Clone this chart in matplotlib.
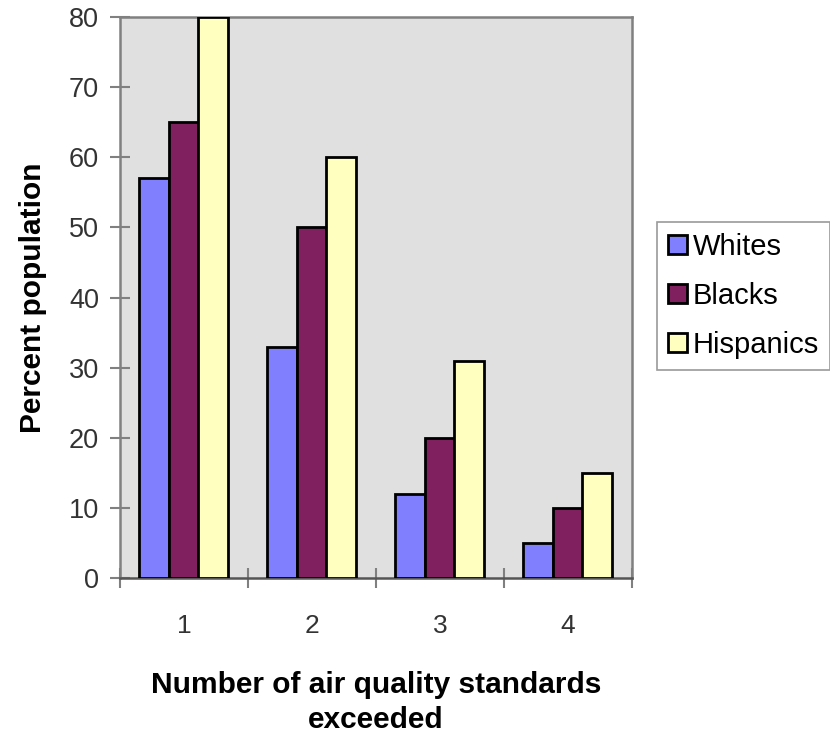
import matplotlib
matplotlib.use("Agg")
import matplotlib.pyplot as plt
import numpy as np

plt.rcParams['font.family'] = ['Liberation Sans', 'DejaVu Sans']

categories = ["1", "2", "3", "4"]
series_names = ["Whites", "Blacks", "Hispanics"]
whites = [57, 33, 12, 5]
blacks = [65, 50, 20, 10]
hispanics = [80, 60, 31, 15]
colors = ["#8080ff", "#80205f", "#ffffc0"]

fig = plt.figure(figsize=(8.3, 7.36), dpi=100, facecolor="white")
ax = fig.add_axes([120 / 830, 1 - 578 / 736, 512 / 830, 561 / 736])
ax.set_facecolor("#e0e0e0")

x = np.arange(1, len(categories) + 1)
w = 0.23
for i, (vals, name) in enumerate(zip([whites, blacks, hispanics], series_names)):
    ax.bar(x + (i - 1) * w - 0.005, vals, width=w, color=colors[i], edgecolor="black",
           linewidth=2, label=name, zorder=3)

ax.set_xlim(0.5, 4.5)
ax.set_ylim(0, 80)
ax.set_yticks(range(0, 81, 10))
ax.set_xticks(x)
ax.set_xticklabels(categories)
ax.set_xticks(np.arange(0.5, 4.6, 1), minor=True)
ax.tick_params(axis="x", which="major", length=0, pad=26, labelsize=19, labelcolor="#333333")
ax.tick_params(axis="x", which="minor", length=14, direction="inout", color="#808080", width=1.5)
ax.tick_params(axis="y", length=14, direction="inout", color="#808080", width=1.5,
               labelsize=19.5, labelcolor="#333333", pad=8)

for s in ax.spines.values():
    s.set_color("#808080")
    s.set_linewidth(1.8)
ax.spines["bottom"].set_color("#555555")

ax.set_ylabel("Percent population", fontsize=21.5, fontweight="bold", labelpad=16)
ax.set_xlabel("Number of air quality standards\nexceeded", fontsize=21.5, fontweight="bold",
              labelpad=24, linespacing=1.3)

leg = ax.legend(loc="center left", bbox_to_anchor=(657 / 830, 1 - 296 / 736),
                bbox_transform=fig.transFigure, fontsize=21, frameon=True, fancybox=False,
                handlelength=0.65, handleheight=0.65, handletextpad=0.2, labelspacing=0.72,
                borderpad=0.38, borderaxespad=0)
leg.get_frame().set_edgecolor("#808080")
leg.get_frame().set_linewidth(1.2)

fig.savefig("out.png", dpi=100)
